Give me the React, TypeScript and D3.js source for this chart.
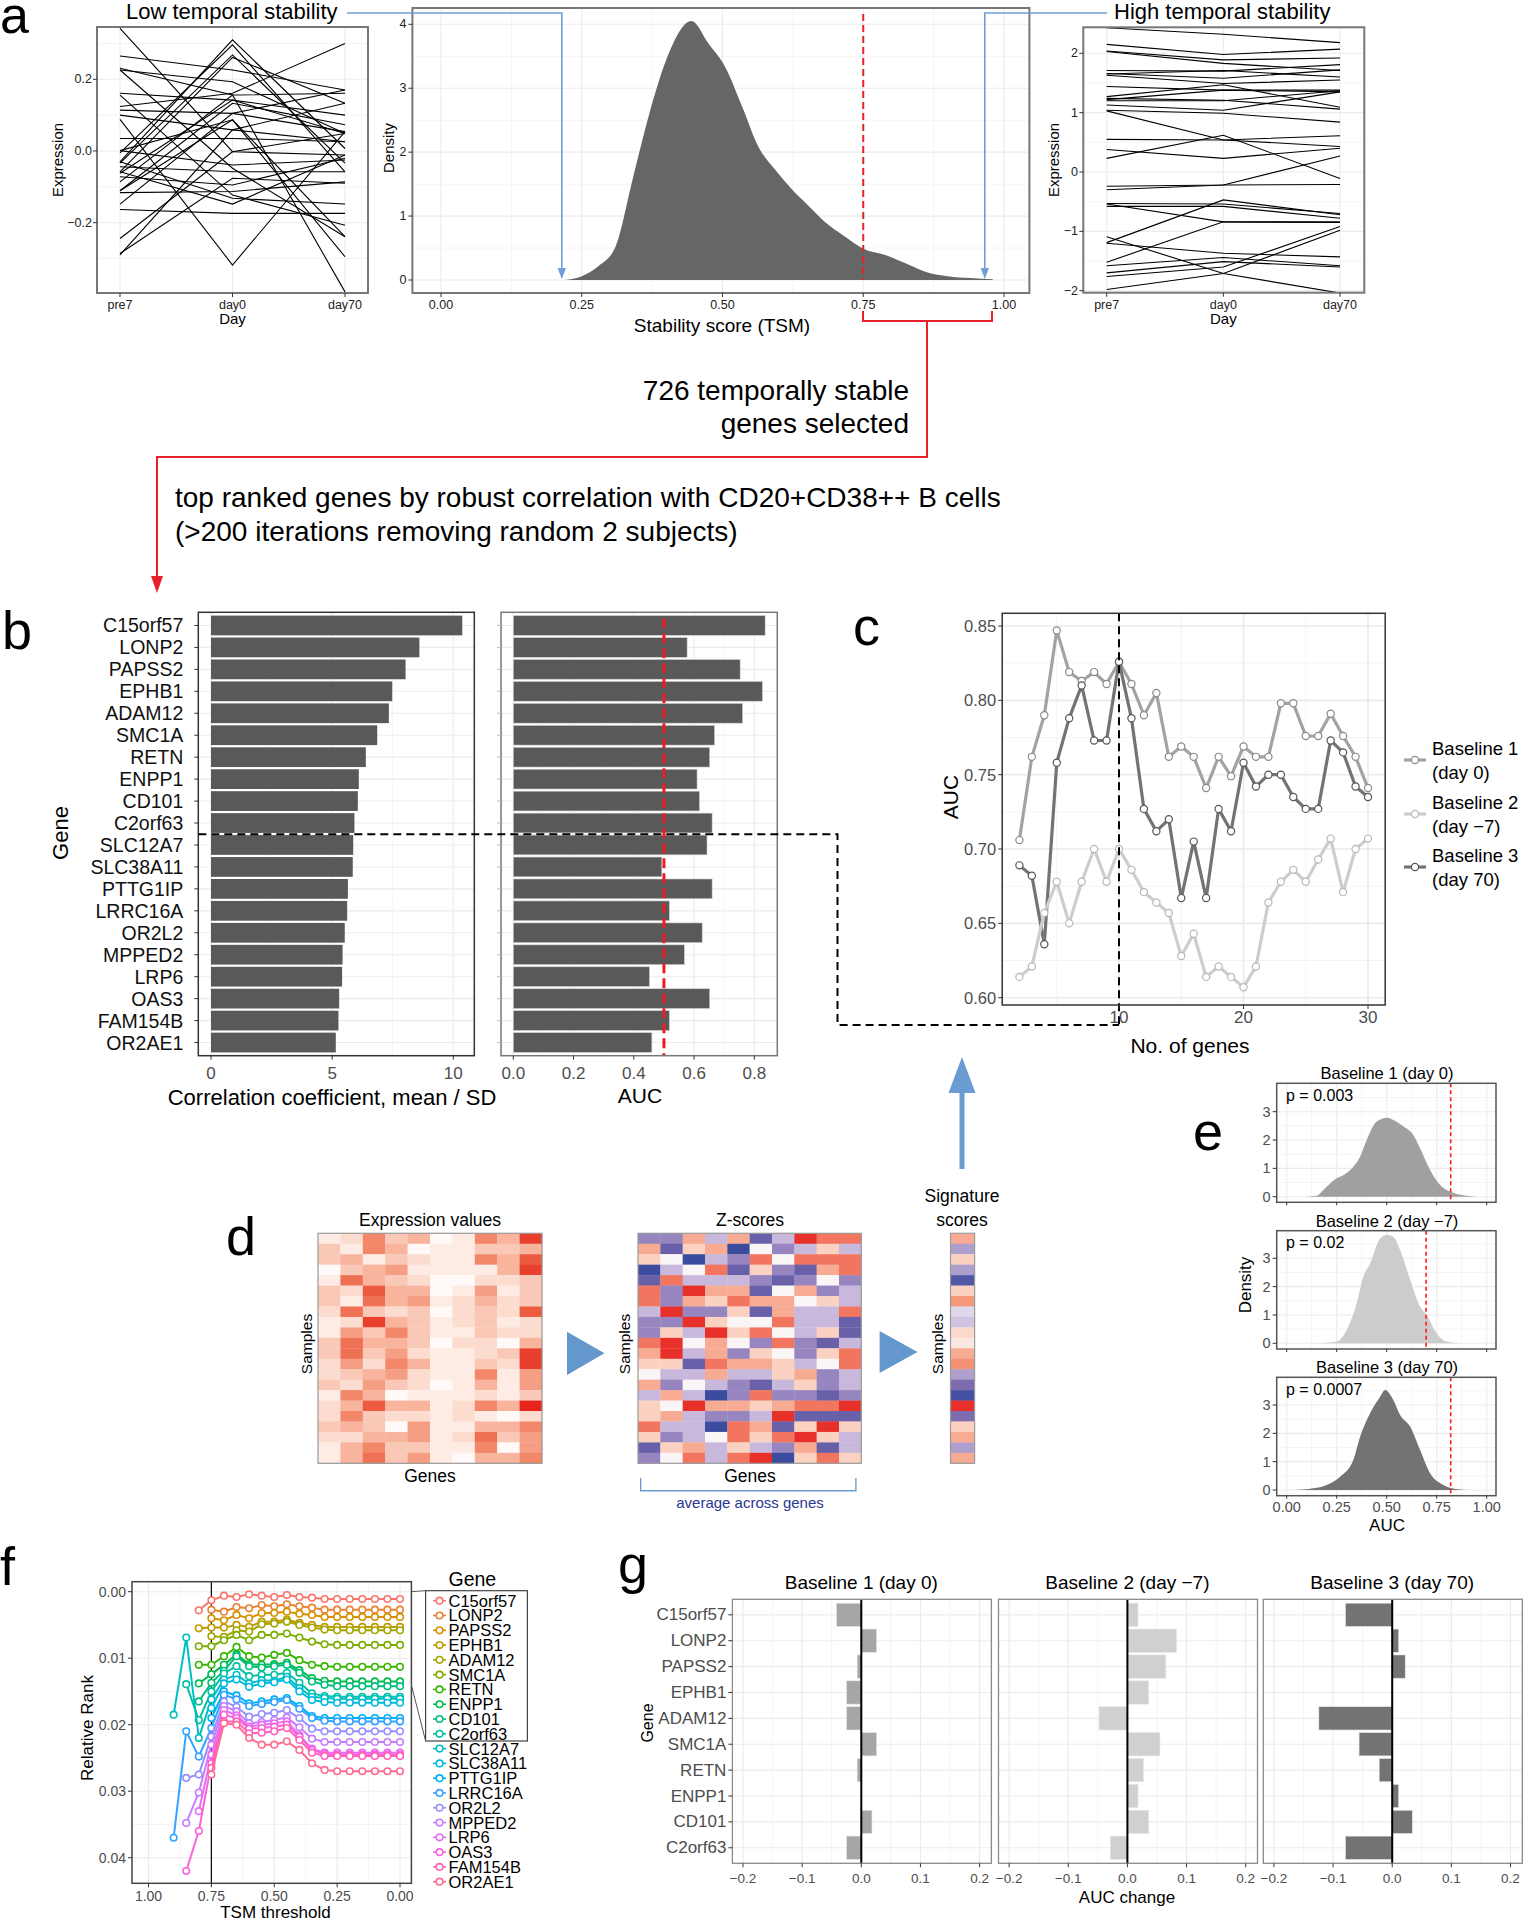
import React from "react";
import * as d3 from "d3";

const FONT = "'Liberation Sans', Arial, Helvetica, sans-serif";
const NARROW = "'Liberation Sans Narrow', 'Liberation Sans', Arial, sans-serif";
const GRID = "#ebebeb";
const GRID_MINOR = "#f4f4f4";
const TICKC = "#4d4d4d";

// ---------------- Panel a ----------------
const days = ["pre7", "day0", "day70"];
const lowStabilityLines: number[][] = [
  [0.342, -0.002, -0.011], [0.265, 0.226, 0.17], [0.231, 0.156, -0.393], [0.226, -0.048, -0.239],
  [0.161, 0.142, 0.049], [0.156, -0.123, -0.207], [0.124, 0.161, 0.3], [0.114, 0.105, 0.054],
  [0.1, 0.059, 0.026], [0.088, -0.318, 0.054], [0.035, 0.035, 0.026], [0.001, -0.039, -0.025],
  [-0.005, 0.296, -0.058], [-0.03, 0.31, 0.007], [-0.034, 0.268, -0.034], [-0.044, -0.058, -0.058],
  [-0.058, 0.261, 0.133], [-0.062, 0.142, 0.1], [-0.072, -0.095, -0.02], [-0.086, 0.156, 0.161],
  [-0.111, 0.133, 0.073], [-0.116, -0.113, -0.086], [-0.148, 0.105, 0.17], [-0.163, -0.174, -0.174],
  [-0.244, -0.002, 0.049], [-0.29, 0.059, 0.133], [-0.286, -0.076, -0.09], [-0.03, -0.132, -0.148],
  [0.001, 0.087, -0.295], [-0.058, -0.148, -0.011], [0.226, 0.193, 0.049], [-0.111, 0.087, -0.239],
];
const highStabilityLines: number[][] = [
  [2.43, 2.32, 2.18], [2.15, 1.98, 2.07], [2.04, 1.89, 1.92], [2.03, 1.83, 1.71], [1.71, 1.7, 1.81],
  [1.66, 1.58, 1.72], [1.63, 1.49, 1.55], [1.44, 1.38, 1.38], [1.27, 1.47, 1.09], [1.24, 1.21, 1.06],
  [1.22, 1.38, 1.35], [1.13, 1.04, 1.35], [1.04, 0.99, 0.84], [1.03, 0.54, 0.61], [0.55, 0.54, 0.43],
  [0.38, 0.23, 0.4], [0.23, 0.62, -0.11], [-0.24, -0.22, 0.27], [-0.3, -0.22, -0.21], [-0.53, -0.54, -0.7],
  [-0.58, -0.58, -0.78], [-0.54, -0.84, -0.85], [-1.09, -1.71, -2.04], [-1.19, -0.47, -0.72],
  [-1.2, -1.37, -1.43], [-1.52, -0.84, -0.84], [-1.58, -1.44, -1.58], [-1.7, -1.51, -1.6],
  [-1.76, -1.6, -0.92], [-1.98, -1.71, -0.98], [1.65, 1.71, 1.6], [1.2, 1.2, 1.37],
];
const tsmDensity: [number, number][] = [
  [0.22, 0], [0.25, 0.06], [0.28, 0.22], [0.31, 0.52], [0.34, 1.56], [0.37, 2.6], [0.4, 3.44],
  [0.445, 4.05], [0.475, 3.7], [0.505, 3.33], [0.535, 2.71], [0.564, 2.08], [0.594, 1.72],
  [0.624, 1.41], [0.654, 1.15], [0.684, 0.89], [0.714, 0.7], [0.75, 0.49], [0.789, 0.39],
  [0.833, 0.23], [0.863, 0.12], [0.9, 0.06], [0.94, 0.03], [0.98, 0.01],
];
const tsmCutoff = 0.75;

// ---------------- Panel b ----------------
const genes = [
  "C15orf57", "LONP2", "PAPSS2", "EPHB1", "ADAM12", "SMC1A", "RETN", "ENPP1", "CD101", "C2orf63",
  "SLC12A7", "SLC38A11", "PTTG1IP", "LRRC16A", "OR2L2", "MPPED2", "LRP6", "OAS3", "FAM154B", "OR2AE1",
];
const corrScore = [10.37, 8.6, 8.03, 7.48, 7.34, 6.86, 6.39, 6.1, 6.06, 5.92, 5.87, 5.85, 5.65, 5.62, 5.52, 5.43, 5.41, 5.29, 5.26, 5.15];
const geneAUC = [0.836, 0.577, 0.753, 0.827, 0.761, 0.668, 0.652, 0.61, 0.618, 0.66, 0.643, 0.493, 0.66, 0.518, 0.627, 0.568, 0.452, 0.652, 0.518, 0.46];

// ---------------- Panel c ----------------
const nGenes = [2, 3, 4, 5, 6, 7, 8, 9, 10, 11, 12, 13, 14, 15, 16, 17, 18, 19, 20, 21, 22, 23, 24, 25, 26, 27, 28, 29, 30];
const aucBaseline1 = [0.706, 0.762, 0.79, 0.847, 0.819, 0.813, 0.819, 0.811, 0.826, 0.811, 0.79, 0.805, 0.762, 0.769, 0.762, 0.741, 0.762, 0.749, 0.769, 0.762, 0.762, 0.798, 0.798, 0.776, 0.776, 0.791, 0.776, 0.762, 0.741];
const aucBaseline2 = [0.614, 0.621, 0.657, 0.678, 0.65, 0.678, 0.7, 0.678, 0.7, 0.686, 0.671, 0.664, 0.657, 0.628, 0.643, 0.614, 0.621, 0.614, 0.607, 0.621, 0.664, 0.678, 0.686, 0.678, 0.693, 0.707, 0.671, 0.7, 0.707];
const aucBaseline3 = [0.689, 0.682, 0.636, 0.758, 0.788, 0.81, 0.773, 0.773, 0.826, 0.788, 0.727, 0.712, 0.72, 0.667, 0.705, 0.667, 0.727, 0.712, 0.758, 0.742, 0.75, 0.75, 0.735, 0.727, 0.727, 0.773, 0.765, 0.742, 0.735];
const baselineNames = ["Baseline 1", "Baseline 2", "Baseline 3"];
const baselineDays = ["(day 0)", "(day \u22127)", "(day 70)"];
const baselineColors = ["#a3a3a3", "#cdcdcd", "#737373"];
const baselineStroke = ["#8a8a8a", "#b8b8b8", "#555555"];

// ---------------- Panel d ----------------
const exprValues: number[][] = [
  [1, 2, 6, 3, 4, 0, 1, 6, 4, 9], [3, 1, 6, 4, 0, 1, 1, 3, 3, 4], [3, 4, 1, 3, 2, 1, 1, 6, 4, 8],
  [0, 3, 4, 5, 1, 1, 1, 1, 4, 9], [1, 7, 4, 3, 2, 0, 0, 2, 2, 3], [3, 2, 8, 4, 4, 0, 1, 5, 1, 3],
  [3, 1, 7, 4, 5, 1, 2, 4, 2, 3], [2, 7, 3, 2, 3, 0, 2, 3, 2, 8], [1, 2, 9, 4, 3, 1, 2, 3, 1, 2],
  [1, 5, 3, 6, 3, 1, 1, 3, 2, 2], [3, 7, 4, 4, 3, 0, 2, 2, 0, 4], [3, 7, 3, 5, 2, 1, 1, 2, 3, 9],
  [2, 5, 2, 6, 4, 1, 1, 3, 2, 9], [2, 3, 4, 5, 2, 1, 1, 6, 1, 5], [3, 2, 5, 3, 2, 0, 1, 4, 1, 5],
  [1, 6, 4, 0, 1, 1, 1, 2, 1, 3], [2, 4, 8, 4, 4, 1, 2, 6, 4, 10], [2, 6, 3, 2, 2, 1, 2, 1, 0, 2],
  [3, 4, 3, 0, 5, 1, 1, 4, 4, 6], [2, 2, 4, 4, 5, 1, 2, 7, 3, 5], [1, 4, 6, 3, 3, 1, 1, 6, 0, 5],
  [1, 4, 7, 3, 5, 1, 0, 4, 4, 6],
];
const zScores: number[][] = [
  [-2, -2, 2, -1, 2, -3, -1, 4, 3, 3], [2, -3, 1, 2, -4, 0, -2, -1, 1, -1], [1, 0, -4, -1, -2, 3, 0, 3, 3, 3],
  [-4, -1, 0, 3, -3, 1, -2, -3, 2, 3], [-3, 3, -1, -1, -1, -2, -3, -2, 0, -2], [3, -2, 4, 2, 2, -3, 0, 2, -2, -1],
  [3, -2, 2, 1, 3, 2, 2, 0, 1, -1], [-1, 4, -2, -2, 1, -3, 2, -1, -1, 3], [-2, -2, 4, 1, 0, 0, 3, -1, -1, -3],
  [-2, 1, -1, 4, 1, 3, 0, -1, 1, -3], [3, 4, 0, 2, 0, -2, 3, -2, -3, -1], [2, 4, -1, 2, -2, 1, 0, -2, 1, 3],
  [1, 1, -3, 3, 2, 2, 1, -1, 0, 3], [0, -1, -1, 2, -1, -1, 1, 2, -2, -1], [2, -2, 0, -1, -2, -3, -1, 1, -2, -1],
  [-1, 2, -1, -4, -2, 3, -2, -2, -3, -2], [1, 0, 4, 2, 2, 1, 2, 3, 3, 4], [1, 2, -1, -2, -2, -1, 4, -3, -3, -3],
  [3, -1, -1, -4, 3, 2, -3, 1, 4, 1], [1, -2, -1, 0, 3, 1, 3, 4, 1, -1], [-3, 1, 2, -1, 1, -1, -2, 2, -3, -1],
  [-2, 0, 3, -1, 3, 4, -4, 1, 3, 1],
];
const signatureScores = [2, -1.5, 1, -1.5, -3.5, 1, 2.5, -0.5, -0.8, 0.8, 0.4, 2, 2.6, -1.5, -2.5, -3.8, 4.5, -2.5, 1, 2, -1.5, 2];

// ---------------- Panel e ----------------
const nullDensityB1: [number, number][] = [
  [0.1, 0], [0.15, 0.03], [0.183, 0.24], [0.217, 0.47], [0.25, 0.65], [0.283, 0.76], [0.333, 1.06],
  [0.367, 1.41], [0.4, 2.0], [0.45, 2.65], [0.503, 2.79], [0.533, 2.71], [0.583, 2.49], [0.633, 2.18],
  [0.667, 1.71], [0.717, 0.94], [0.767, 0.41], [0.833, 0.14], [0.9, 0.03], [0.95, 0],
];
const nullDensityB2: [number, number][] = [
  [0.15, 0], [0.2, 0.02], [0.25, 0.06], [0.3, 0.47], [0.35, 1.41], [0.383, 2.35], [0.417, 2.82],
  [0.467, 3.7], [0.5, 3.82], [0.533, 3.76], [0.567, 3.29], [0.617, 2.24], [0.667, 1.29], [0.7, 1.0],
  [0.75, 0.35], [0.8, 0.06], [0.867, 0],
];
const nullDensityB3: [number, number][] = [
  [0.033, 0], [0.133, 0.06], [0.2, 0.18], [0.267, 0.47], [0.333, 1.06], [0.367, 1.88], [0.417, 2.71],
  [0.467, 3.29], [0.492, 3.53], [0.533, 3.18], [0.567, 2.65], [0.617, 2.24], [0.667, 1.41], [0.717, 0.59],
  [0.783, 0.18], [0.867, 0.02], [0.933, 0],
];
const observedAUC = [0.82, 0.697, 0.82];
const pValues = ["p = 0.003", "p = 0.02", "p = 0.0007"];
const facetTitles = ["Baseline 1 (day 0)", "Baseline 2 (day \u22127)", "Baseline 3 (day 70)"];

// ---------------- Panel f ----------------
const tsmThresholds = [0.9, 0.85, 0.8, 0.75, 0.7, 0.65, 0.6, 0.55, 0.5, 0.45, 0.4, 0.35, 0.3, 0.25, 0.2, 0.15, 0.1, 0.05, 0.0];
// relative rank in units of 1/1000
const relRankPermille: (number | null)[][] = [
  [null, null, 2.8, 1.3, 0.6, 0.8, 0.4, 0.6, 0.8, 0.5, 0.8, 0.9, 1.1, 1.1, 1.1, 1.1, 1.1, 1.1, 1.1],
  [null, null, null, 2.7, 3.0, 2.3, 2.5, 2.0, 2.2, 1.9, 2.2, 2.4, 2.7, 2.7, 2.7, 2.7, 2.7, 2.7, 2.7],
  [null, null, null, 4.0, 4.3, 3.5, 4.0, 3.2, 3.2, 3.0, 3.3, 3.5, 3.8, 3.8, 3.8, 3.8, 3.8, 3.8, 3.8],
  [null, null, 5.5, 5.4, 5.4, 5.0, 5.3, 4.5, 4.5, 4.2, 4.7, 5.0, 5.3, 5.3, 5.3, 5.3, 5.3, 5.3, 5.3],
  [null, null, null, 6.7, 6.8, 5.8, 6.0, 4.9, 4.8, 4.5, 5.0, 5.4, 5.7, 5.8, 5.8, 5.8, 5.8, 5.8, 5.8],
  [null, null, 8.2, 8.2, 7.3, 6.5, 7.3, 6.5, 6.5, 6.3, 6.9, 7.5, 7.9, 8.0, 8.0, 8.0, 8.0, 8.0, 8.0],
  [null, null, 11.0, 11.0, 9.7, 8.3, 9.7, 9.9, 9.5, 9.2, 10.3, 11.0, 11.2, 11.3, 11.3, 11.3, 11.3, 11.3, 11.3],
  [null, null, 13.8, 12.4, 11.0, 9.4, 10.9, 11.0, 10.9, 10.7, 11.8, 13.0, 13.4, 13.5, 13.5, 13.5, 13.5, 13.5, 13.5],
  [null, null, 16.5, 13.7, 11.9, 9.7, 11.2, 11.4, 11.2, 11.0, 12.2, 13.5, 14.0, 14.2, 14.2, 14.2, 14.2, 14.2, 14.2],
  [null, 13.9, 19.3, 15.0, 12.3, 11.2, 12.7, 12.5, 12.5, 12.2, 13.7, 15.3, 15.7, 15.8, 15.8, 15.8, 15.8, 15.8, 15.8],
  [18.5, 6.9, 22.0, 16.2, 13.2, 12.5, 13.8, 13.3, 13.4, 12.8, 14.5, 15.8, 16.0, 16.1, 16.1, 16.1, 16.1, 16.1, 16.1],
  [null, null, null, 17.5, 13.8, 13.2, 14.3, 13.8, 13.6, 13.2, 15.0, 16.3, 16.6, 16.7, 16.7, 16.7, 16.7, 16.7, 16.7],
  [null, null, null, 19.0, 15.0, 15.6, 16.8, 16.5, 16.2, 16.0, 17.2, 18.7, 19.0, 19.0, 19.0, 19.0, 19.0, 19.0, 19.0],
  [37.0, 21.0, 24.8, 20.5, 15.5, 16.2, 17.2, 16.9, 16.6, 16.3, 17.6, 19.0, 19.4, 19.5, 19.5, 19.5, 19.5, 19.5, 19.5],
  [null, 28.0, 27.5, 21.8, 16.5, 17.3, 18.8, 18.4, 18.2, 17.8, 19.0, 20.6, 21.0, 21.0, 21.0, 21.0, 21.0, 21.0, 21.0],
  [null, 34.8, 30.2, 23.0, 17.2, 18.0, 19.8, 19.6, 19.3, 18.9, 20.4, 22.1, 22.6, 22.6, 22.6, 22.6, 22.6, 22.6, 22.6],
  [null, null, 33.0, 24.5, 17.8, 18.6, 20.3, 20.0, 19.8, 19.5, 21.6, 23.6, 24.2, 24.2, 24.2, 24.2, 24.2, 24.2, 24.2],
  [null, 42.0, 36.0, 25.8, 18.5, 19.0, 20.6, 20.5, 20.3, 20.0, 21.8, 23.8, 24.4, 24.5, 24.5, 24.5, 24.5, 24.5, 24.5],
  [null, null, null, 26.5, 19.5, 19.5, 21.3, 21.2, 21.0, 20.5, 22.3, 24.2, 24.7, 24.7, 24.7, 24.7, 24.7, 24.7, 24.7],
  [null, null, null, 27.5, 19.8, 20.0, 22.0, 23.0, 23.0, 22.5, 23.8, 25.8, 26.8, 27.0, 27.0, 27.0, 27.0, 27.0, 27.0],
];
const hueColors = [
  "#F8766D", "#EA8331", "#D89000", "#C09B00", "#A3A500", "#7CAE00", "#39B600", "#00BB4E", "#00BF7D", "#00C1A3",
  "#00BFC4", "#00BAE0", "#00B0F6", "#35A2FF", "#9590FF", "#C77CFF", "#E76BF3", "#FA62DB", "#FF62BC", "#FF6C91",
];

// ---------------- Panel g ----------------
const aucChangeB1 = [-0.042, 0.026, -0.007, -0.025, -0.025, 0.026, -0.007, 0.0, 0.018, -0.025];
const aucChangeB2 = [0.018, 0.083, 0.065, 0.036, -0.048, 0.055, 0.027, 0.018, 0.036, -0.029];
const aucChangeB3 = [-0.079, 0.011, 0.022, 0.0, -0.124, -0.056, -0.022, 0.011, 0.034, -0.079];
const aucChangeTicks = [-0.2, -0.1, 0, 0.1, 0.2];
const gBarColors = ["#a6a6a6", "#d0d0d0", "#737373"];

// ---------------- helpers ----------------
type TP = {
  x: number; y: number; s: number; a?: "start" | "middle" | "end"; c?: string; r?: number;
  f?: string; b?: boolean; children: React.ReactNode;
};
const T = ({ x, y, s, a = "start", c = "#000", r = 0, f = FONT, b = false, children }: TP) => (
  <text
    x={x} y={y} fontSize={s} textAnchor={a} fill={c} fontFamily={f}
    dominantBaseline={b ? "alphabetic" : "central"}
    transform={r ? `rotate(${r} ${x} ${y})` : undefined}
  >
    {children}
  </text>
);
type Box = { x0: number; y0: number; x1: number; y1: number };
const Frame = ({ box, c = "#333", w = 1.5 }: { box: Box; c?: string; w?: number }) => (
  <rect x={box.x0} y={box.y0} width={box.x1 - box.x0} height={box.y1 - box.y0} fill="none" stroke={c} strokeWidth={w} />
);
const Grid = ({ box, xs = [], ys = [], c = GRID, w = 1.1 }: { box: Box; xs?: number[]; ys?: number[]; c?: string; w?: number }) => (
  <g>
    {xs.map((v, i) => <line key={"x" + i} x1={v} x2={v} y1={box.y0} y2={box.y1} stroke={c} strokeWidth={w} />)}
    {ys.map((v, i) => <line key={"y" + i} x1={box.x0} x2={box.x1} y1={v} y2={v} stroke={c} strokeWidth={w} />)}
  </g>
);
const TicksLeft = ({ box, ys, labels, s, gap = 6, c = TICKC, f = FONT }: { box: Box; ys: number[]; labels: string[]; s: number; gap?: number; c?: string; f?: string }) => (
  <g>
    {ys.map((v, i) => (
      <g key={i}>
        <line x1={box.x0 - 4} x2={box.x0} y1={v} y2={v} stroke="#333" strokeWidth={1} />
        <T x={box.x0 - gap} y={v} s={s} a="end" c={c} f={f}>{labels[i]}</T>
      </g>
    ))}
  </g>
);
const TicksBottom = ({ box, xs, labels, s, ty, c = TICKC }: { box: Box; xs: number[]; labels: string[]; s: number; ty: number; c?: string }) => (
  <g>
    {xs.map((v, i) => (
      <g key={i}>
        <line x1={v} x2={v} y1={box.y1} y2={box.y1 + 4} stroke="#333" strokeWidth={1} />
        <T x={v} y={ty} s={s} a="middle" c={c}>{labels[i]}</T>
      </g>
    ))}
  </g>
);

// ---------------- Panel A ----------------
function LinesPanel({ data, box, xr, yDom, yRange, yTicks, yLabels, minor, clipId, labelX, tickLabelX }: any) {
  const x = d3.scalePoint<string>().domain(days).range(xr);
  const y = d3.scaleLinear().domain(yDom).range(yRange);
  const line = d3.line<number>().x((_, i) => x(days[i])!).y((d) => y(d));
  return (
    <g>
      <clipPath id={clipId}><rect x={box.x0} y={box.y0} width={box.x1 - box.x0} height={box.y1 - box.y0} /></clipPath>
      <Grid box={box} ys={minor.map((v: number) => y(v))} c={GRID_MINOR} w={1} />
      <Grid box={box} xs={days.map((d) => x(d)!)} ys={yTicks.map((v: number) => y(v))} />
      <g clipPath={`url(#${clipId})`}>
        {data.map((l: number[], i: number) => (
          <path key={i} d={line(l)!} fill="none" stroke="#000" strokeWidth={1.1} />
        ))}
      </g>
      <Frame box={box} c="#777" w={2} />
      <g>
        {yTicks.map((v: number, i: number) => (
          <g key={i}>
            <line x1={box.x0 - 4} x2={box.x0} y1={y(v)} y2={y(v)} stroke="#333" />
            <T x={tickLabelX} y={y(v)} s={12.5} a="end" c="#222">{yLabels[i]}</T>
          </g>
        ))}
      </g>
      <TicksBottom box={box} xs={days.map((d) => x(d)!)} labels={days} s={12.5} ty={305} c="#222" />
      <T x={(xr[0] + xr[1]) / 2} y={318} s={15} a="middle">Day</T>
      <T x={labelX} y={(box.y0 + box.y1) / 2} s={15} a="middle" r={-90}>Expression</T>
    </g>
  );
}

function DensityPanelA() {
  const box = { x0: 412.4, y0: 8, x1: 1029.4, y1: 293 };
  const x = d3.scaleLinear().domain([0, 1]).range([441, 1004]);
  const y = d3.scaleLinear().domain([0, 4]).range([280, 24.3]);
  const area = d3.area<[number, number]>().x((d) => x(d[0])).y0(y(0)).y1((d) => y(d[1])).curve(d3.curveMonotoneX);
  const xt = [0, 0.25, 0.5, 0.75, 1];
  return (
    <g>
      <Grid box={box} xs={[0.125, 0.375, 0.625, 0.875].map(x)} ys={[0.5, 1.5, 2.5, 3.5].map(y)} c={GRID_MINOR} w={1} />
      <Grid box={box} xs={xt.map(x)} ys={[0, 1, 2, 3, 4].map(y)} />
      <path d={area(tsmDensity)!} fill="#666666" />
      <line x1={x(tsmCutoff)} x2={x(tsmCutoff)} y1={14} y2={y(0)} stroke="#e8202a" strokeWidth={2} strokeDasharray="7 4" />
      <Frame box={box} c="#777" w={2} />
      <TicksLeft box={box} ys={[0, 1, 2, 3, 4].map(y)} labels={["0", "1", "2", "3", "4"]} s={12.5} c="#222" />
      <TicksBottom box={box} xs={xt.map(x)} labels={["0.00", "0.25", "0.50", "0.75", "1.00"]} s={12.5} ty={305} c="#222" />
      <T x={722} y={325} s={19} a="middle">Stability score (TSM)</T>
      <T x={388} y={148} s={15} a="middle" r={-90}>Density</T>
    </g>
  );
}

function PanelA() {
  return (
    <g>
      <T x={0} y={33} s={52} b>a</T>
      <T x={126} y={19} s={22} b>Low temporal stability</T>
      <T x={1114} y={19} s={22} b>High temporal stability</T>
      <LinesPanel
        data={lowStabilityLines} box={{ x0: 97, y0: 27, x1: 368, y1: 293 }} xr={[120, 345]}
        yDom={[-0.2, 0.2]} yRange={[222.7, 79.3]} yTicks={[-0.2, 0, 0.2]} yLabels={["\u22120.2", "0.0", "0.2"]}
        minor={[-0.3, -0.1, 0.1, 0.3]} clipId="clipLow" labelX={57} tickLabelX={92}
      />
      <DensityPanelA />
      <LinesPanel
        data={highStabilityLines} box={{ x0: 1083.3, y0: 27.3, x1: 1364.3, y1: 292.7 }} xr={[1106.7, 1340]}
        yDom={[-2, 2]} yRange={[290.7, 53.3]} yTicks={[-2, -1, 0, 1, 2]} yLabels={["\u22122", "\u22121", "0", "1", "2"]}
        minor={[-1.5, -0.5, 0.5, 1.5]} clipId="clipHigh" labelX={1053} tickLabelX={1078}
      />
    </g>
  );
}

// ---------------- Panel B ----------------
function PanelB() {
  const box1 = { x0: 198.3, y0: 612.3, x1: 474.3, y1: 1055.7 };
  const box2 = { x0: 501, y0: 612.3, x1: 777.3, y1: 1055.7 };
  const y = d3.scalePoint<string>().domain(genes).range([box1.y0, box1.y1]).padding(0.6);
  const bh = y.step() * 0.9;
  const x1 = d3.scaleLinear().domain([0, 10]).range([211, 453.3]);
  const x2 = d3.scaleLinear().domain([0, 0.8]).range([513.3, 754.3]);
  const gy = genes.map((g) => y(g)!);
  return (
    <g>
      <T x={2} y={649} s={54} b>b</T>
      <Grid box={box1} xs={[2.5, 7.5].map(x1)} c={GRID_MINOR} w={1} />
      <Grid box={box1} xs={[0, 5, 10].map(x1)} ys={gy} />
      {genes.map((g, i) => (
        <rect key={g} x={x1(0)} y={y(g)! - bh / 2} width={x1(corrScore[i]) - x1(0)} height={bh} fill="#595959" />
      ))}
      <Frame box={box1} />
      <TicksLeft box={box1} ys={gy} labels={genes} s={19.5} gap={15} c="#111" />
      <TicksBottom box={box1} xs={[0, 5, 10].map(x1)} labels={["0", "5", "10"]} s={17} ty={1073} />
      <T x={332} y={1097} s={22} a="middle">Correlation coefficient, mean / SD</T>
      <T x={60} y={833} s={22} a="middle" r={-90}>Gene</T>

      <Grid box={box2} xs={[0.1, 0.3, 0.5, 0.7].map(x2)} c={GRID_MINOR} w={1} />
      <Grid box={box2} xs={[0, 0.2, 0.4, 0.6, 0.8].map(x2)} ys={gy} />
      {genes.map((g, i) => (
        <rect key={g} x={x2(0)} y={y(g)! - bh / 2} width={x2(geneAUC[i]) - x2(0)} height={bh} fill="#595959" stroke="#cfcfcf" strokeWidth={0.6} />
      ))}
      <line x1={x2(0.5)} x2={x2(0.5)} y1={box2.y0 + 6} y2={box2.y1} stroke="#ee1c25" strokeWidth={3} strokeDasharray="10 5" />
      <Frame box={box2} c="#777" />
      <TicksBottom box={box2} xs={[0, 0.2, 0.4, 0.6, 0.8].map(x2)} labels={["0.0", "0.2", "0.4", "0.6", "0.8"]} s={17} ty={1073} />
      {gy.map((v, i) => <line key={i} x1={box2.x0 - 4} x2={box2.x0} y1={v} y2={v} stroke="#bbb" />)}
      <T x={640} y={1095} s={21} a="middle">AUC</T>
    </g>
  );
}

// ---------------- Panel C ----------------
function PanelC() {
  const box = { x0: 1002.2, y0: 613.3, x1: 1385.2, y1: 1005 };
  const x = d3.scaleLinear().domain([10, 30]).range([1119, 1368]);
  const y = d3.scaleLinear().domain([0.6, 0.85]).range([997.7, 626]);
  const series = [aucBaseline1, aucBaseline3, aucBaseline2];
  const order = [0, 2, 1];
  const line = d3.line<number>().x((_, i) => x(nGenes[i])).y((d) => y(d));
  const yt = [0.6, 0.65, 0.7, 0.75, 0.8, 0.85];
  return (
    <g>
      <T x={853} y={645} s={54} b>c</T>
      <Grid box={box} xs={[5, 15, 25].map(x)} ys={[0.625, 0.675, 0.725, 0.775, 0.825].map(y)} c={GRID_MINOR} w={1} />
      <Grid box={box} xs={[10, 20, 30].map(x)} ys={yt.map(y)} w={1.6} />
      {series.map((s, k) => {
        const si = order[k];
        return (
          <g key={k}>
            <path d={line(s)!} fill="none" stroke={baselineColors[si]} strokeWidth={3.2} strokeLinejoin="round" />
            {s.map((v, i) => (
              <circle key={i} cx={x(nGenes[i])} cy={y(v)} r={3.6} fill="#fff" stroke={baselineStroke[si]} strokeWidth={1.2} />
            ))}
          </g>
        );
      })}
      <line x1={x(10)} x2={x(10)} y1={box.y0} y2={1025} stroke="#000" strokeWidth={2} strokeDasharray="8 5" />
      <Frame box={box} />
      <TicksLeft box={box} ys={yt.map(y)} labels={yt.map((v) => v.toFixed(2))} s={16.5} />
      <TicksBottom box={box} xs={[10, 20, 30].map(x)} labels={["10", "20", "30"]} s={17} ty={1017} />
      <T x={1190} y={1045} s={21} a="middle">No. of genes</T>
      <T x={950} y={797} s={21} a="middle" r={-90}>AUC</T>
      {[0, 1, 2].map((i) => {
        const ky = [760, 814, 867][i];
        return (
          <g key={i}>
            <line x1={1404} x2={1426} y1={ky} y2={ky} stroke={baselineColors[i]} strokeWidth={3.2} />
            <circle cx={1415} cy={ky} r={3.6} fill="#fff" stroke={baselineStroke[i]} strokeWidth={1.2} />
            <T x={1432} y={ky - 12} s={18.5}>{baselineNames[i]}</T>
            <T x={1432} y={ky + 12} s={18.5}>{baselineDays[i]}</T>
          </g>
        );
      })}
    </g>
  );
}

// ---------------- Panel D ----------------
const exprColor = d3.scaleLinear<string>().domain([0, 2, 4, 6, 8, 10])
  .range(["#fffaf8", "#fcdccf", "#f8b49d", "#f2876a", "#ec5a40", "#e6251c"]).clamp(true);
const zColor = d3.scaleLinear<string>().domain([-4, -2.5, -1, 0, 1, 2.5, 4])
  .range(["#3b4c9f", "#7e6cb0", "#c8b8dc", "#faf6f7", "#fbd1c1", "#f5987a", "#e8302a"]).clamp(true);

function Heat({ data, x0, x1, color }: { data: number[][]; x0: number; x1: number; color: (v: number) => string }) {
  const y0 = 1233.3, y1 = 1463.3;
  const cols = d3.range(data[0].length);
  const rows = d3.range(data.length);
  const xb = d3.scaleBand<number>().domain(cols).range([x0, x1]);
  const yb = d3.scaleBand<number>().domain(rows).range([y0, y1]);
  return (
    <g>
      {data.map((row, r) => row.map((v, c) => (
        <rect key={r + "-" + c} x={xb(c)!} y={yb(r)!} width={xb.bandwidth() + 0.3} height={yb.bandwidth() + 0.3} fill={color(v)} />
      )))}
      <rect x={x0} y={y0} width={x1 - x0} height={y1 - y0} fill="none" stroke="#9a9a9a" strokeWidth={1.2} />
    </g>
  );
}

function PanelD() {
  const blue = "#6497cc";
  const sig = signatureScores.map((v) => [v]);
  return (
    <g>
      <T x={226} y={1255} s={54} b>d</T>
      <Heat data={exprValues} x0={318} x1={542} color={exprColor} />
      <T x={430} y={1220} s={17.5} a="middle" f={NARROW}>Expression values</T>
      <T x={430} y={1476} s={17.5} a="middle" f={NARROW}>Genes</T>
      <T x={306} y={1344} s={15.5} a="middle" r={-90} f={NARROW}>Samples</T>
      <polygon points="567,1331.7 604.5,1353.3 567,1375" fill={blue} />
      <Heat data={zScores} x0={638} x1={861.3} color={zColor} />
      <T x={750} y={1220} s={17.5} a="middle" f={NARROW}>Z-scores</T>
      <T x={750} y={1476} s={17.5} a="middle" f={NARROW}>Genes</T>
      <T x={624} y={1344} s={15.5} a="middle" r={-90} f={NARROW}>Samples</T>
      <path d="M640.7,1478 V1490.7 H855.9 V1478" fill="none" stroke="#6d9bd6" strokeWidth={1.4} />
      <T x={750} y={1502} s={15} a="middle" c="#2a3590" f={NARROW}>average across genes</T>
      <polygon points="879.6,1331 917.5,1352 879.6,1373" fill={blue} />
      <Heat data={sig} x0={950.5} x1={974.6} color={zColor} />
      <T x={937} y={1344} s={15.5} a="middle" r={-90} f={NARROW}>Samples</T>
      <T x={962} y={1196} s={17.5} a="middle" f={NARROW}>Signature</T>
      <T x={962} y={1220} s={17.5} a="middle" f={NARROW}>scores</T>
      <rect x={959.5} y={1090} width={5} height={79} fill="#6a9bd1" />
      <polygon points="962,1057 948.5,1093 975.5,1093" fill="#6a9bd1" />
    </g>
  );
}

// ---------------- Panel E ----------------
function PanelE() {
  const x = d3.scaleLinear().domain([0, 1]).range([1286.7, 1486.7]);
  const facets = [
    { top: 1083.3, bot: 1202.3, zero: 1196.7, ty: 1073.3, d: nullDensityB1, fill: "#a0a0a0" },
    { top: 1230.7, bot: 1349, zero: 1343.3, ty: 1220.7, d: nullDensityB2, fill: "#cccccc" },
    { top: 1377.3, bot: 1495.7, zero: 1490, ty: 1366.7, d: nullDensityB3, fill: "#737373" },
  ];
  const xt = [0, 0.25, 0.5, 0.75, 1];
  return (
    <g>
      <T x={1193} y={1150} s={54} b>e</T>
      {facets.map((f, i) => {
        const box = { x0: 1276.7, y0: f.top, x1: 1496, y1: f.bot };
        const y = d3.scaleLinear().domain([0, 3]).range([f.zero, f.zero - 85]);
        const area = d3.area<[number, number]>().x((d) => x(d[0])).y0(y(0)).y1((d) => y(d[1])).curve(d3.curveMonotoneX);
        return (
          <g key={i}>
            <Grid box={box} xs={[0.125, 0.375, 0.625, 0.875].map(x)} ys={[0.5, 1.5, 2.5, 3.5].map(y)} c={GRID_MINOR} w={1} />
            <Grid box={box} xs={xt.map(x)} ys={[0, 1, 2, 3].map(y)} />
            <path d={area(f.d)!} fill={f.fill} />
            <line x1={x(observedAUC[i])} x2={x(observedAUC[i])} y1={box.y0} y2={box.y1} stroke="#ff1a1a" strokeWidth={1.6} strokeDasharray="4 3" />
            <Frame box={box} c="#555" w={1.5} />
            <TicksLeft box={box} ys={[0, 1, 2, 3].map(y)} labels={["0", "1", "2", "3"]} s={14.5} />
            {xt.map((v, k) => <line key={k} x1={x(v)} x2={x(v)} y1={box.y1} y2={box.y1 + 3} stroke="#333" />)}
            <T x={1387} y={f.ty} s={16.5} a="middle">{facetTitles[i]}</T>
            <T x={1286} y={f.top + 12} s={16}>{pValues[i]}</T>
          </g>
        );
      })}
      {xt.map((v, k) => <T key={k} x={x(v)} y={1507} s={14.5} a="middle" c={TICKC}>{["0.00", "0.25", "0.50", "0.75", "1.00"][k]}</T>)}
      <T x={1387} y={1525} s={17} a="middle">AUC</T>
      <T x={1245} y={1285} s={17} a="middle" r={-90}>Density</T>
    </g>
  );
}

// ---------------- Panel F ----------------
function PanelF() {
  const box = { x0: 132, y0: 1581.7, x1: 411.4, y1: 1883.3 };
  const x = d3.scaleLinear().domain([1, 0]).range([148.5, 400]);
  const y = d3.scaleLinear().domain([0, 40]).range([1591.7, 1857.7]);
  const line = d3.line<number | null>()
    .defined((d) => d !== null)
    .x((_, i) => x(tsmThresholds[i]))
    .y((d) => y(d as number));
  const xt = [1, 0.75, 0.5, 0.25, 0];
  const yt = [0, 10, 20, 30, 40];
  return (
    <g>
      <T x={0} y={1585} s={54} b>f</T>
      <Grid box={box} xs={[0.875, 0.625, 0.375, 0.125].map(x)} ys={[5, 15, 25, 35].map(y)} c={GRID_MINOR} w={1} />
      <Grid box={box} xs={xt.map(x)} ys={yt.map(y)} />
      <line x1={x(0.75)} x2={x(0.75)} y1={box.y0} y2={box.y1} stroke="#000" strokeWidth={1.2} />
      {relRankPermille.map((s, gi) => (
        <g key={gi}>
          <path d={line(s)!} fill="none" stroke={hueColors[gi]} strokeWidth={2} />
          {s.map((v, i) => v === null ? null : (
            <circle key={i} cx={x(tsmThresholds[i])} cy={y(v)} r={3.3} fill="#fff" stroke={hueColors[gi]} strokeWidth={1.6} />
          ))}
        </g>
      ))}
      <Frame box={box} c="#444" />
      <TicksLeft box={box} ys={yt.map(y)} labels={["0.00", "0.01", "0.02", "0.03", "0.04"]} s={14} />
      <TicksBottom box={box} xs={xt.map(x)} labels={["1.00", "0.75", "0.50", "0.25", "0.00"]} s={14} ty={1896} />
      <T x={275.5} y={1912} s={17} a="middle">TSM threshold</T>
      <T x={87} y={1728} s={17} a="middle" r={-90}>Relative Rank</T>
      <T x={448.5} y={1579} s={19.5}>Gene</T>
      {genes.map((g, i) => {
        const ly = 1600.7 + i * 14.79;
        return (
          <g key={g}>
            <line x1={433} x2={446} y1={ly} y2={ly} stroke={hueColors[i]} strokeWidth={1.6} />
            <circle cx={439.5} cy={ly} r={3.3} fill="#fff" stroke={hueColors[i]} strokeWidth={1.6} />
            <T x={448.5} y={ly} s={16.5}>{g}</T>
          </g>
        );
      })}
      <rect x={425.6} y={1590.7} width={101.8} height={150.3} fill="none" stroke="#444" strokeWidth={1.2} />
      <line x1={411.4} y1={1591.7} x2={425.6} y2={1590.7} stroke="#555" strokeWidth={1} />
      <line x1={411.4} y1={1685} x2={425.6} y2={1741} stroke="#555" strokeWidth={1} />
    </g>
  );
}

// ---------------- Panel G ----------------
function PanelG() {
  const top10 = genes.slice(0, 10);
  const y = d3.scalePoint<string>().domain(top10).range([1599.3, 1863.3]).padding(0.6);
  const bh = y.step() * 0.9;
  const data = [aucChangeB1, aucChangeB2, aucChangeB3];
  const offs = [0, 266.1, 530.9];
  return (
    <g>
      <T x={618} y={1583} s={54} b>g</T>
      {data.map((vals, p) => {
        const x = d3.scaleLinear().domain([-0.2, 0.2]).range([743 + offs[p], 979.6 + offs[p]]);
        const box = { x0: 732.4 + offs[p], y0: 1599.3, x1: 991.4 + offs[p], y1: 1863.3 };
        return (
          <g key={p}>
            <Grid box={box} xs={[-0.15, -0.05, 0.05, 0.15].map(x)} c={GRID_MINOR} w={1} />
            <Grid box={box} xs={aucChangeTicks.map(x)} ys={top10.map((g) => y(g)!)} />
            {top10.map((g, i) => (
              <rect key={g} x={Math.min(x(0), x(vals[i]))} y={y(g)! - bh / 2} width={Math.abs(x(vals[i]) - x(0))} height={bh}
                fill={gBarColors[p]} stroke="#e6e6e6" strokeWidth={0.6} />
            ))}
            <line x1={x(0)} x2={x(0)} y1={box.y0} y2={box.y1} stroke="#000" strokeWidth={2} />
            <Frame box={box} c="#8a8a8a" w={1.3} />
            <TicksBottom box={box} xs={aucChangeTicks.map(x)} labels={["\u22120.2", "\u22120.1", "0.0", "0.1", "0.2"]} s={13.5} ty={1878} />
            <T x={x(0)} y={1582} s={19} a="middle">{facetTitles[p]}</T>
            {p === 0 && (
              <TicksLeft box={box} ys={top10.map((g) => y(g)!)} labels={top10} s={17} />
            )}
          </g>
        );
      })}
      <T x={1127} y={1897} s={17} a="middle">AUC change</T>
      <T x={647} y={1723} s={16} a="middle" r={-90}>Gene</T>
    </g>
  );
}

// ---------------- Connectors & annotations ----------------
function Connectors() {
  const blue = "#6f9fd8";
  const red = "#e8202a";
  return (
    <g>
      <path d="M347,13 H561.8 V270" fill="none" stroke={blue} strokeWidth={1.6} />
      <polygon points="557.6,268 566,268 561.8,279" fill={blue} />
      <path d="M1107,13 H984.8 V270" fill="none" stroke={blue} strokeWidth={1.6} />
      <polygon points="980.6,268 989,268 984.8,279" fill={blue} />
      <path d="M863,311 V321 H992 V311" fill="none" stroke={red} strokeWidth={2} />
      <path d="M927,321 V457 H157 V578" fill="none" stroke={red} strokeWidth={2} />
      <polygon points="151,576 163,576 157,593" fill={red} />
      <T x={909} y={400} s={28} a="end" b>726 temporally stable</T>
      <T x={909} y={433} s={28} a="end" b>genes selected</T>
      <T x={175} y={507} s={28} b>top ranked genes by robust correlation with CD20+CD38++ B cells</T>
      <T x={175} y={541} s={28} b>(&gt;200 iterations removing random 2 subjects)</T>
      <path d="M198.3,834.3 H837.5 V1025 H1119" fill="none" stroke="#000" strokeWidth={2} strokeDasharray="8 5" />
    </g>
  );
}

export default function App() {
  return (
    <svg width={1523} height={1920} style={{ position: "absolute", left: 0, top: 0, background: "#fff" }} fontFamily={FONT}>
      <rect x={0} y={0} width={1523} height={1920} fill="#fff" />
      <PanelA />
      <PanelB />
      <PanelC />
      <PanelD />
      <PanelE />
      <PanelF />
      <PanelG />
      <Connectors />
    </svg>
  );
}
